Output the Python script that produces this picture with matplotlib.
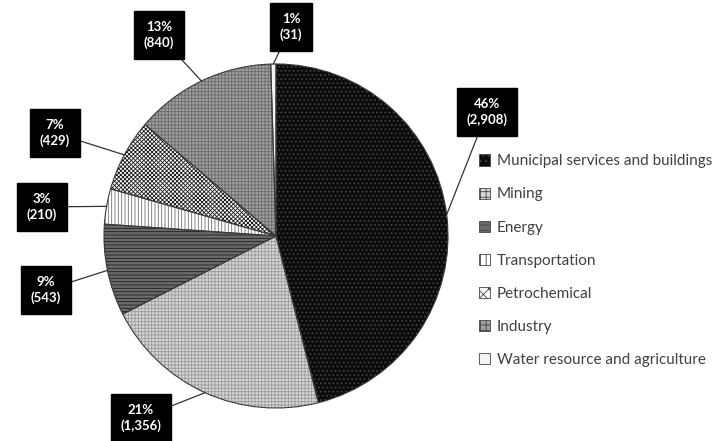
import matplotlib
matplotlib.use("Agg")
import matplotlib.pyplot as plt
from matplotlib.patches import Patch
import numpy as np

plt.rcParams['font.family'] = ['Lato', 'DejaVu Sans']
plt.rcParams['hatch.linewidth'] = 0.6

sectors = ["Municipal services and buildings", "Mining", "Energy", "Transportation",
           "Petrochemical", "Industry", "Water resource and agriculture"]
counts = [2908, 1356, 543, 210, 429, 840, 31]
pct_labels = ["46%", "21%", "9%", "3%", "7%", "13%", "1%"]
count_labels = ["(2,908)", "(1,356)", "(543)", "(210)", "(429)", "(840)", "(31)"]

# fill, hatch, hatch colour
styles = [("#0c0c0c", "....", "#4a4a4a"),
          ("#d6d6d6", "+++++", "#9a9a9a"),
          ("#6a6a6a", "-----", "#1e1e1e"),
          ("#ffffff", "|||||", "#707070"),
          ("#ffffff", "xxxxxxxx", "#1a1a1a"),
          ("#a0a0a0", "+++++", "#6a6a6a"),
          ("#f4f4f4", "", "#f4f4f4")]

# box centres for the labels (data units, pie radius = 1)
box_pos = [(1.227, 0.721), (-0.785, -1.058), (-1.337, -0.314), (-1.360, 0.169),
           (-1.285, 0.599), (-0.680, 1.169), (0.087, 1.215)]

fig = plt.figure(figsize=(7.17, 4.41), dpi=100)
ax = fig.add_axes([104 / 717, 33 / 441, 344 / 717, 344 / 441])

wedges, _ = ax.pie(counts, startangle=90, counterclock=False, radius=1,
                   wedgeprops=dict(linewidth=0))
for w, (fc, h, hc) in zip(wedges, styles):
    w.set_facecolor(fc)
    w.set_hatch(h)
    w.set_edgecolor(hc)

ax.pie(counts, startangle=90, counterclock=False, radius=1,
       wedgeprops=dict(fill=False, edgecolor="#3a3a3a", linewidth=0.8))

for w, p, c, pos in zip(wedges, pct_labels, count_labels, box_pos):
    mid = np.deg2rad((w.theta1 + w.theta2) / 2)
    xy = (np.cos(mid), np.sin(mid))
    ax.annotate(p + "\n" + c, xy=xy, xytext=pos, ha="center", va="center",
                color="white", fontsize=9.5, fontweight="bold", linespacing=1.35,
                annotation_clip=False,
                bbox=dict(boxstyle="square,pad=0.75", fc="black", ec="black"),
                arrowprops=dict(arrowstyle="-", color="#333333", lw=0.9,
                                shrinkA=0, shrinkB=0))

ax.set_xlim(-1, 1)
ax.set_ylim(-1, 1)
ax.set_aspect("equal")
ax.axis("off")

handles = [Patch(facecolor=fc, hatch=h[:3], edgecolor="#444444", linewidth=0.6)
           for fc, h, hc in styles]
leg = fig.legend(handles, sectors, loc="upper left", bbox_to_anchor=(0.668, 0.650),
                 frameon=False, fontsize=11, labelspacing=1.25, handlelength=0.75,
                 handleheight=0.75, handletextpad=0.4, borderpad=0, borderaxespad=0)
for t in leg.get_texts():
    t.set_color("#404040")

fig.savefig("out.png", dpi=100)
